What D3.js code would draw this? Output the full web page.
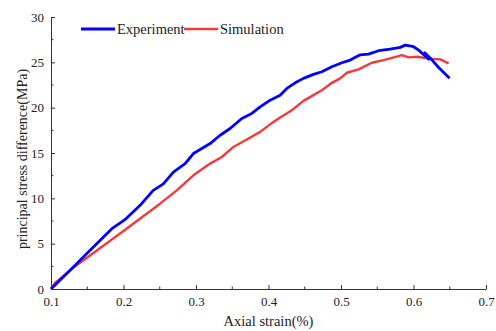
<!DOCTYPE html>
<html>
<head>
<meta charset="utf-8">
<script src="https://cdn.jsdelivr.net/npm/d3@7"></script>
<style>
  body { margin: 0; background: #fff; }
  text { font-family: "Liberation Serif", "Times New Roman", serif; fill: #222; }
</style>
</head>
<body>
<svg id="chart" width="496" height="331"></svg>
<script>
// Experiment curve (axial strain %, principal stress difference MPa)
const expStrain = [0.1, 0.133, 0.1515, 0.184, 0.202, 0.225, 0.241, 0.255, 0.2688, 0.285, 0.2964, 0.3057,
  0.3195, 0.3333, 0.347, 0.3632, 0.377, 0.3885, 0.4023, 0.416, 0.4253, 0.4368, 0.4482, 0.462, 0.4736,
  0.4874, 0.5012, 0.5127, 0.5265, 0.538, 0.5518, 0.5679, 0.5817, 0.5886, 0.6001, 0.607, 0.614, 0.621,
  0.6155, 0.625, 0.635, 0.6498]
const expStress = [0, 2.6, 4.07, 6.65, 7.65, 9.41, 10.88, 11.6, 12.9, 13.83, 14.94, 15.38,
  16.04, 16.96, 17.7, 18.8, 19.36, 20.09, 20.83, 21.38, 22.12, 22.74, 23.23, 23.67, 23.96,
  24.51, 24.95, 25.25, 25.83, 25.91, 26.28, 26.46, 26.65, 26.9, 26.72, 26.35, 25.85, 25.35,
  26.05, 25.3, 24.4, 23.25]

// Simulation curve
const simStrain = [0.1, 0.1055, 0.133, 0.2, 0.2504, 0.2735, 0.2964, 0.3195, 0.3356, 0.3516, 0.3701,
  0.3885, 0.4068, 0.416, 0.4322, 0.4482, 0.462, 0.4736, 0.4874, 0.4989, 0.5081, 0.5242, 0.5426,
  0.5587, 0.5794, 0.584, 0.5932, 0.6048, 0.6139, 0.6277, 0.6369, 0.6484]
const simStress = [0, 0.66, 2.49, 6.4, 9.41, 10.88, 12.54, 13.83, 14.56, 15.67, 16.49,
  17.33, 18.43, 18.92, 19.72, 20.75, 21.38, 21.93, 22.74, 23.23, 23.85, 24.22, 24.95,
  25.25, 25.69, 25.8, 25.55, 25.61, 25.5, 25.36, 25.33, 24.88]

const xTicks = [0.1, 0.2, 0.3, 0.4, 0.5, 0.6, 0.7]
const yTicks = [0, 5, 10, 15, 20, 25, 30]
const seriesNames = ["Experiment", "Simulation"]
const seriesColors = ["#0000ff", "#f23c3c"]

const svg = d3.select("#chart")
const mLeft = 51, mRight = 486, mTop = 17, mBottom = 289

const x = d3.scaleLinear().domain([0.1, 0.7]).range([mLeft, mRight])
const y = d3.scaleLinear().domain([0, 30]).range([mBottom, mTop])

const axisColor = "#333"

// bottom axis
const xAxis = svg.append("g").attr("transform", "translate(0," + mBottom + ")")
  .call(d3.axisBottom(x).tickValues(xTicks).tickFormat(d3.format(".1f")).tickSizeInner(-4).tickSizeOuter(0).tickPadding(8))
xAxis.selectAll(".tick")
  .filter(d => d === 0.1).select("line").remove()
xAxis.append("g").selectAll("line")
  .data(d3.range(0.15, 0.7, 0.1))
  .enter().append("line")
  .attr("x1", d => x(d)).attr("x2", d => x(d))
  .attr("y1", 0).attr("y2", -2.5)
  .attr("stroke", axisColor)

// left axis
const yAxis = svg.append("g").attr("transform", "translate(" + mLeft + ",0)")
  .call(d3.axisLeft(y).tickValues(yTicks).tickSizeInner(-4).tickSizeOuter(0).tickPadding(7))
yAxis.append("g").selectAll("line")
  .data(d3.range(2.5, 30, 5))
  .enter().append("line")
  .attr("y1", d => y(d)).attr("y2", d => y(d))
  .attr("x1", 0).attr("x2", 2.5)
  .attr("stroke", axisColor)

svg.selectAll(".domain, .tick line").attr("stroke", axisColor)
svg.selectAll(".tick text")
  .style("font-family", "'Liberation Serif', serif")
  .style("font-size", "13px")
  .attr("fill", "#222")

// axis titles
svg.append("text")
  .attr("x", (mLeft + mRight) / 2).attr("y", 326)
  .attr("text-anchor", "middle")
  .style("font-size", "14.5px")
  .text("Axial strain(%)")

svg.append("text")
  .attr("transform", "translate(27," + ((mTop + mBottom) / 2 + 6) + ") rotate(-90)")
  .attr("text-anchor", "middle")
  .style("font-size", "14px")
  .text("principal stress difference(MPa)")

// curves
const line = d3.line()
  .x(d => x(d[0]))
  .y(d => y(d[1]))

const expData = expStrain.map((s, i) => [s, expStress[i]])
const simData = simStrain.map((s, i) => [s, simStress[i]])

svg.append("path")
  .datum(simData)
  .attr("fill", "none")
  .attr("stroke", seriesColors[1])
  .attr("stroke-width", 2.4)
  .attr("stroke-linejoin", "round")
  .attr("d", line)

svg.append("path")
  .datum(expData)
  .attr("fill", "none")
  .attr("stroke", seriesColors[0])
  .attr("stroke-width", 2.8)
  .attr("stroke-linejoin", "round")
  .attr("d", line)

// legend
const legendX = [81, 184]
seriesNames.forEach((name, i) => {
  const g = svg.append("g").attr("transform", "translate(" + legendX[i] + ",29)")
  g.append("line")
    .attr("x1", 0).attr("x2", 34)
    .attr("stroke", seriesColors[i])
    .attr("stroke-width", i === 0 ? 2.8 : 2.4)
  g.append("text")
    .attr("x", 36).attr("y", 5)
    .style("font-size", "14.5px")
    .text(name)
})
</script>
</body>
</html>
